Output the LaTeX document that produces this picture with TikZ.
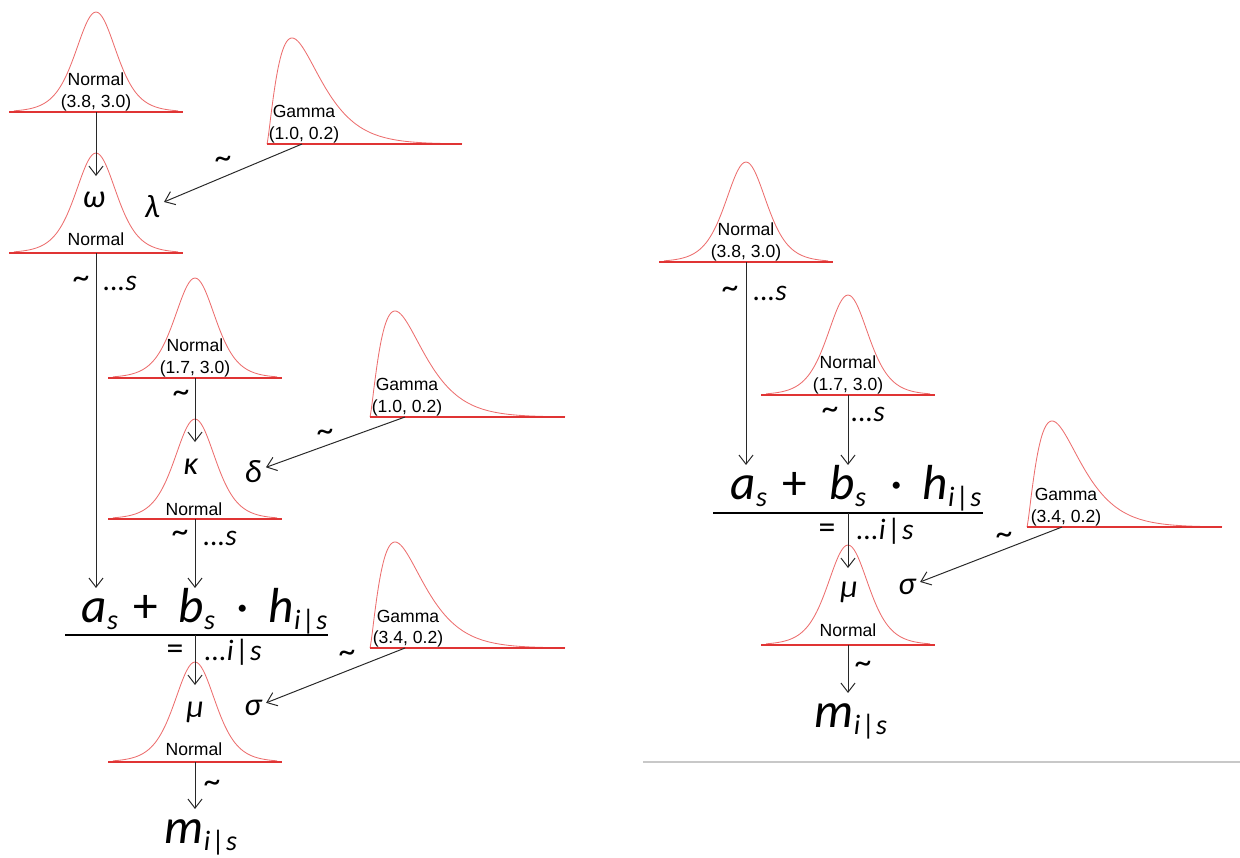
\documentclass[tikz,border=0pt]{standalone}
\usepackage{fontspec}
\setmainfont{Liberation Sans}
\newfontfamily\symfont{Carlito}
\usetikzlibrary{arrows.meta, calc}
\definecolor{pdfred}{RGB}{224,52,52}
\definecolor{pdfpink}{RGB}{236,110,110}
\definecolor{arrowgray}{RGB}{40,40,40}
\definecolor{rulegray}{RGB}{200,200,200}

\newcommand{\lowsub}[1]{\raisebox{-5pt}{\fontsize{20}{20}\selectfont #1}}
\newcommand{\given}{\kern1pt{\upshape|}\kern1pt}

\tikzset{
  pdfcurve/.style={pdfpink, line width=0.6pt},
  pdfbase/.style={pdfred, line width=1.3pt},
  arr/.style={arrowgray, line width=0.7pt, -{Straight Barb[length=6.5pt,width=10pt]}},
  lbl/.style={font=\fontsize{12.5}{15}\selectfont, inner sep=0pt, align=center},
  greek/.style={font=\symfont\itshape\fontsize{23}{23}\selectfont, inner sep=3pt},
  tld/.style={font=\symfont\fontsize{24}{24}\selectfont, inner sep=0pt},
  idx/.style={font=\symfont\itshape\fontsize{21}{21}\selectfont, inner sep=0pt},
  frm/.style={font=\symfont\itshape\fontsize{35}{35}\selectfont, inner sep=0pt, text height=24pt, anchor=base},
  pics/normalpdf/.style={code={
    \draw[pdfcurve] plot[domain=-82:82, samples=83, smooth] (\x,{-100*(1+\x*\x/2646)^(-3.5)});
    \draw[pdfbase] (-87,0) -- (87,0);
    \coordinate (-base) at (0,0);
    \coordinate (-in) at (0,-77);
  }},
  pics/gammapdf/.style={code={
    \draw[pdfcurve] (0,0) -- plot[domain=0.2:195, samples=150, smooth] (\x,{-106*((\x/25)^1.3)*exp(1.3*(1-\x/25))});
    \draw[pdfbase] (0,0) -- (195,0);
    \coordinate (-out) at (35,0);
  }},
}

\begin{document}
\begin{tikzpicture}[x=0.025cm, y=-0.025cm]
  \useasboundingbox (0,0) rectangle (1240,857);

  % ---- left model ----
  % priors of the intercept
  \pic (nA) at (96,112) {normalpdf};
  \node[lbl, anchor=south] at (96,111) {Normal\\(3.8, 3.0)};
  \pic (nB) at (96,253) {normalpdf};
  \node[greek] (omega) at (94,200) {ω};
  \node[lbl] at (96,239) {Normal};
  \pic (gA) at (267,144) {gammapdf};
  \node[lbl, anchor=south] at (304,143) {Gamma\\(1.0, 0.2)};
  \node[greek] (lambda) at (152,207) {λ};
  \draw[arr] (nA-base) -- (nB-in);
  \draw[arr] (gA-out) -- (lambda);
  \node[tld] at (223,162) {\char`\~};

  % priors of the slope
  \pic (nC) at (195,378) {normalpdf};
  \node[lbl, anchor=south] at (195,377) {Normal\\(1.7, 3.0)};
  \pic (nD) at (195,519) {normalpdf};
  \node[greek] (kappa) at (191,467) {κ};
  \node[lbl] at (194,509) {Normal};
  \pic (gB) at (370,417) {gammapdf};
  \node[lbl, anchor=south] at (407,416) {Gamma\\(1.0, 0.2)};
  \node[greek] (delta) at (253,472) {δ};
  \draw[arr] (nC-base) -- (nD-in);
  \node[tld] at (181,396) {\char`\~};
  \draw[arr] (gB-out) -- (delta);
  \node[tld] at (325,435) {\char`\~};

  % linear predictor
  \node[frm] (as) at (100,622) {a\lowsub{s}};
  \node[frm] (plus) at (146,622) {\upshape +};
  \node[frm] (bs) at (197,622) {b\lowsub{s}};
  \node[frm] (cdot) at (243,622) {\upshape ·};
  \node[frm] (hs) at (298,622) {h\lowsub{i\given s}};
  \coordinate (ruleL) at (65,635);
  \coordinate (ruleR) at (328,635);
  \draw[black, line width=0.8pt] (ruleL) -- (ruleR);
  \draw[arr] (nB-base) -- (as.north -| nB-base);
  \node[tld] at (81,282) {\char`\~};
  \node[idx] at (120,283) {...s};
  \draw[arr] (nD-base) -- (bs.north -| nD-base);
  \node[tld] at (180,536) {\char`\~};
  \node[idx] at (220,538) {...s};

  % likelihood
  \pic (nE) at (195,762) {normalpdf};
  \node[greek] (mu) at (195,712) {μ};
  \node[lbl] at (194,749) {Normal};
  \draw[arr] (ruleL -| nE-base) -- (nE-in);
  \node[tld] at (175,652) {=};
  \node[idx] at (233,652) {...i\given s};
  \pic (gC) at (370,648) {gammapdf};
  \node[lbl, anchor=south] at (408,647) {Gamma\\(3.4, 0.2)};
  \node[greek] (sigma) at (253,708) {σ};
  \draw[arr] (gC-out) -- (sigma);
  \node[tld] at (347,656) {\char`\~};
  \node[frm] (m) at (201,843) {m\lowsub{i\given s}};
  \draw[arr] (nE-base) -- (m.north -| nE-base);
  \node[tld] at (212,786) {\char`\~};

  % ---- right model ----
  \pic (rA) at (746,262) {normalpdf};
  \node[lbl, anchor=south] at (746,261) {Normal\\(3.8, 3.0)};
  \pic (rB) at (848,395) {normalpdf};
  \node[lbl, anchor=south] at (848,394) {Normal\\(1.7, 3.0)};

  \node[frm] (asR) at (749,499) {a\lowsub{s}};
  \node[frm] (plusR) at (795,499) {\upshape +};
  \node[frm] (bsR) at (848,499) {b\lowsub{s}};
  \node[frm] (cdotR) at (897,499) {\upshape ·};
  \node[frm] (hsR) at (952,499) {h\lowsub{i\given s}};
  \coordinate (ruleRL) at (713,513);
  \coordinate (ruleRR) at (983,513);
  \draw[black, line width=0.8pt] (ruleRL) -- (ruleRR);
  \draw[arr] (rA-base) -- (asR.north -| rA-base);
  \node[tld] at (730,292) {\char`\~};
  \node[idx] at (770,293) {...s};
  \draw[arr] (rB-base) -- (bsR.north -| rB-base);
  \node[tld] at (830,413) {\char`\~};
  \node[idx] at (868,414) {...s};

  \pic (rC) at (848,645) {normalpdf};
  \node[greek] (muR) at (849,592) {μ};
  \node[lbl] at (848,630) {Normal};
  \draw[arr] (ruleRL -| rC-base) -- (rC-in);
  \node[tld] at (827,531) {=};
  \node[idx] at (885,531) {...i\given s};
  \pic (rG) at (1027,527) {gammapdf};
  \node[lbl, anchor=south] at (1066,526) {Gamma\\(3.4, 0.2)};
  \node[greek] (sigmaR) at (907,587) {σ};
  \draw[arr] (rG-out) -- (sigmaR);
  \node[tld] at (1004,538) {\char`\~};
  \node[frm] (mR) at (851,727) {m\lowsub{i\given s}};
  \draw[arr] (rC-base) -- (mR.north -| rC-base);
  \node[tld] at (863,667) {\char`\~};

  % separator
  \draw[rulegray, line width=1pt] (643,762) -- (1240,762);
\end{tikzpicture}
\end{document}
